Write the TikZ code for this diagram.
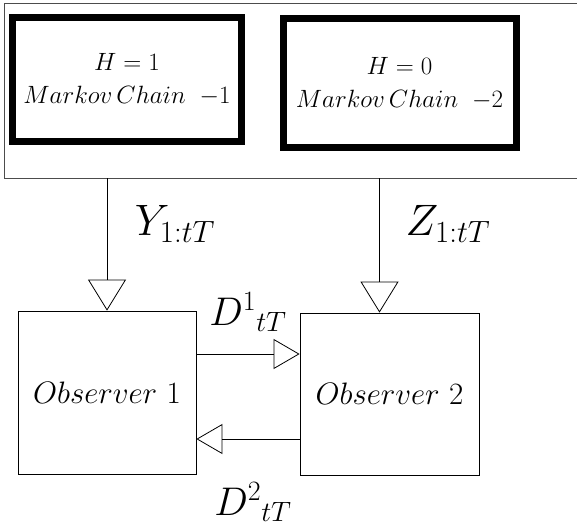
\documentclass[tikz,border=0pt]{standalone}
\usepackage{fix-cm}
\usepackage{tikz}
\usetikzlibrary{arrows.meta,positioning}

\begin{document}
\begin{tikzpicture}[x=1pt,y=-1pt,
every node/.style={align=center,inner sep=0pt},
chainbox/.style={draw,line width=7pt,minimum width=229pt,minimum height=124pt,font=\fontsize{25}{33}\selectfont},
obsbox/.style={draw,line width=.8pt,minimum width=178pt,minimum height=163pt,font=\fontsize{31}{36}\selectfont},
lbl/.style={font=\fontsize{44}{48}\selectfont},
dlbl/.style={font=\fontsize{40}{44}\selectfont},
go/.style={-{Triangle[open,length=26pt,width=30pt]},line width=.8pt},
feed/.style={-{Triangle[open,length=31pt,width=38pt]},line width=.8pt}]
\useasboundingbox (0,0) rectangle (577,526);
\node[draw=black!70,line width=.8pt,minimum width=576pt,minimum height=175pt] (src) at (292,90.5) {};
\node[chainbox] (mc1) at (127,80) {$H=1$\\$Markov\,Chain\;\;{-}1$};
\node[chainbox,minimum width=233pt,minimum height=129.5pt] (mc2) at (399.5,83.25) {$H=0$\\$Markov\,Chain\;\;{-}2$};
\node[obsbox] (obs1) at (107,392.5) {$Observer\ 1$};
\node[obsbox,minimum width=179pt,minimum height=162pt] (obs2) at (389.5,394) {$Observer\ 2$};
\coordinate (zin) at ([xshift=-10pt]obs2.north);
\draw[feed] (obs1.north |- src.south)--(obs1.north);
\draw[feed] (zin |- src.south)--(zin);
\draw[go] ([yshift=38.5pt]obs1.east)--([yshift=38.5pt]obs1.east -| obs2.west);
\draw[go] ([yshift=-45pt]obs2.west)--([yshift=-45pt]obs2.west -| obs1.east);
\node[lbl] (ylab) at (175,224) {$Y_{1:tT}$};
\node[lbl] (zlab) at (448,224) {$Z_{1:tT}$};
\node[dlbl] (d1) at (248,312) {$D^{1}{}_{tT}$};
\node[dlbl] (d2) at (253,502) {$D^{2}{}_{tT}$};
\end{tikzpicture}
\end{document}
